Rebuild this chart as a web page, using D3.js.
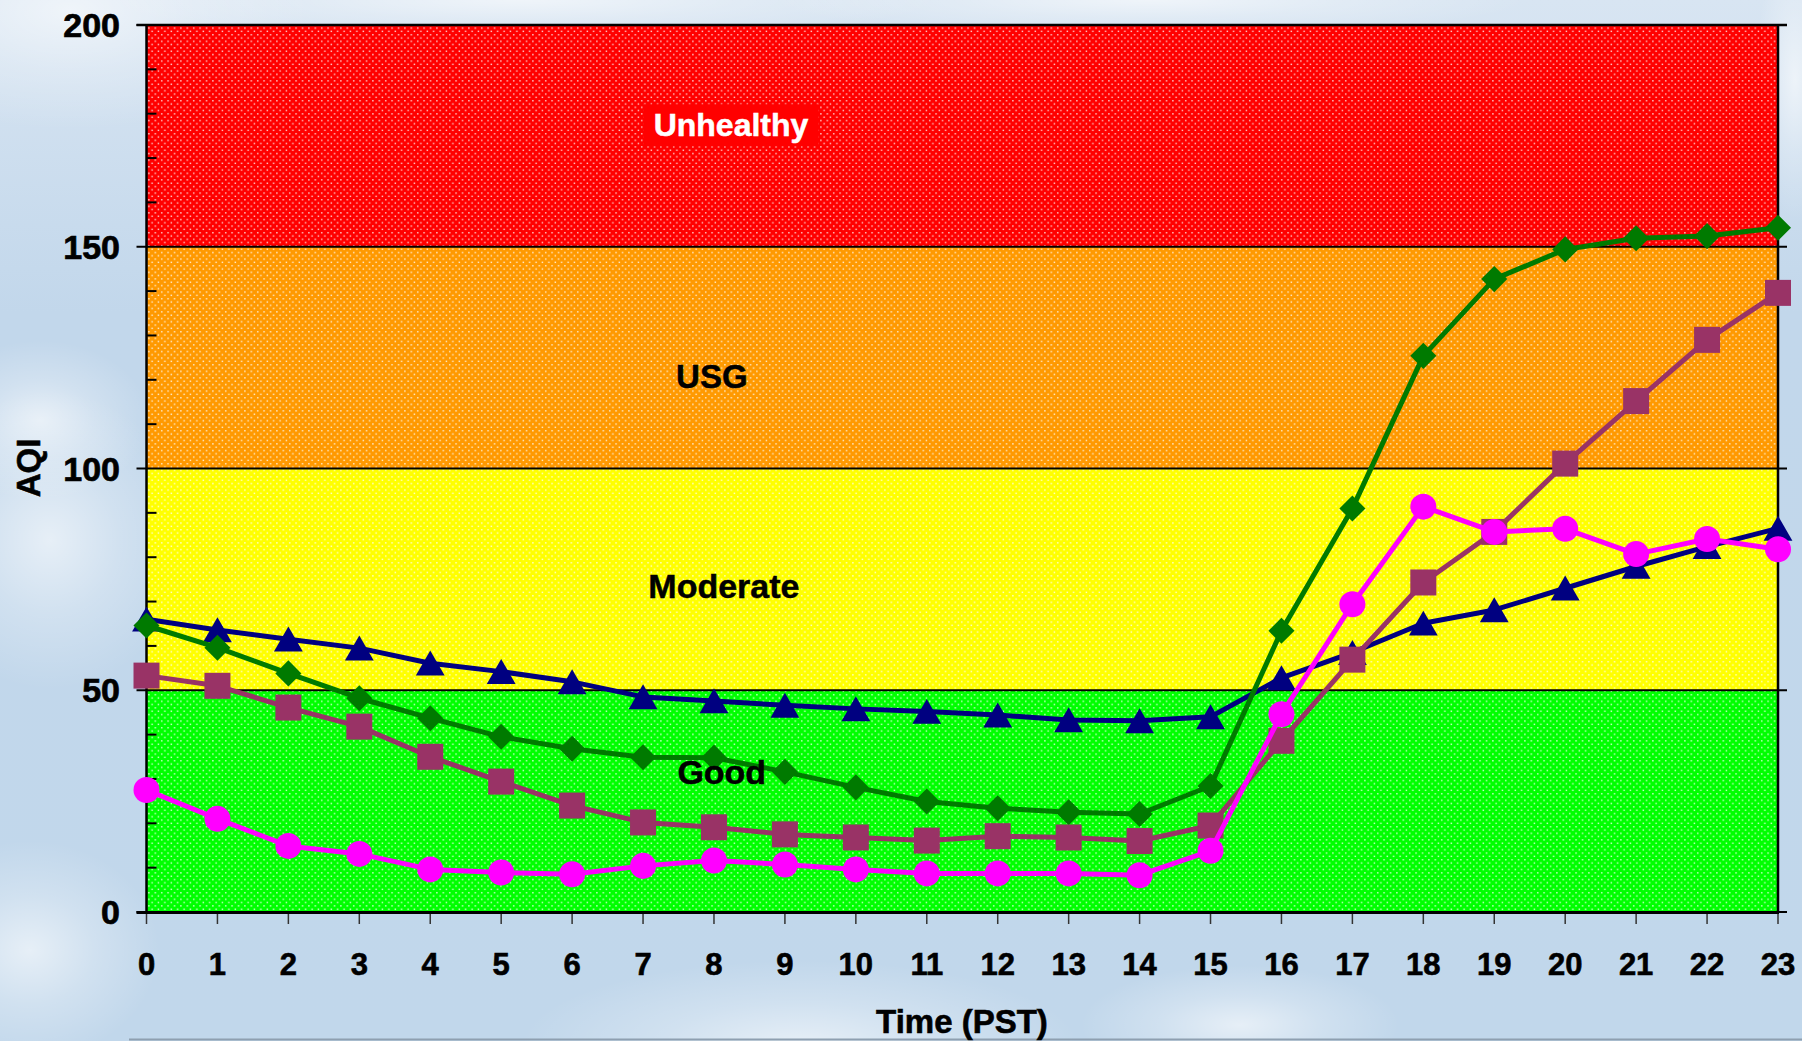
<!DOCTYPE html>
<html>
<head>
<meta charset="utf-8">
<script src="https://cdn.jsdelivr.net/npm/d3@7"></script>
<style>
  html, body { margin: 0; padding: 0; overflow: hidden; background: #c3d8ec; }
  svg { display: block; }
  text { font-family: "Liberation Sans", Arial, sans-serif; font-weight: bold; }
</style>
</head>
<body>
<svg id="chart" width="1802" height="1041"></svg>
<script>
// ---- data -------------------------------------------------------------
const hours = [0, 1, 2, 3, 4, 5, 6, 7, 8, 9, 10, 11, 12, 13, 14, 15, 16, 17, 18, 19, 20, 21, 22, 23];

const navySeries    = [66.0, 63.6, 61.5, 59.5, 56.1, 54.2, 51.9, 48.5, 47.6, 46.6, 45.8, 45.2, 44.4, 43.3, 43.1, 44.0, 52.8, 58.5, 65.1, 68.1, 73.0, 77.9, 82.4, 86.5];
const greenSeries   = [64.6, 59.6, 53.8, 48.2, 43.7, 39.5, 36.8, 34.9, 34.8, 31.6, 28.1, 24.9, 23.4, 22.5, 22.1, 28.4, 63.4, 91.0, 125.4, 142.7, 149.4, 151.9, 152.4, 154.3];
const maroonSeries  = [53.3, 51.0, 46.1, 41.8, 35.0, 29.4, 24.0, 20.2, 19.1, 17.5, 16.8, 16.1, 17.1, 16.8, 16.0, 19.5, 38.6, 56.9, 74.3, 85.7, 101.1, 115.2, 129.0, 139.6];
const magentaSeries = [27.5, 21.0, 14.9, 13.1, 9.6, 8.9, 8.5, 10.4, 11.6, 10.7, 9.6, 8.7, 8.7, 8.7, 8.3, 13.8, 44.6, 69.4, 91.4, 85.7, 86.4, 80.7, 84.1, 81.8];

// AQI category bands (lower, upper)
const bandLows   = [0, 50, 100, 150];
const bandHighs  = [50, 100, 150, 200];
const bandNames  = ["Good", "Moderate", "USG", "Unhealthy"];
const bandColors = ["#00ff00", "#ffff00", "#ff9900", "#ff0000"];

const yTickValues = [0, 50, 100, 150, 200];
const yMinorTicks = [10, 20, 30, 40, 60, 70, 80, 90, 110, 120, 130, 140, 160, 170, 180, 190];

// ---- layout -----------------------------------------------------------
const W = 1802, H = 1041;
const plot = { left: 146.5, right: 1778, top: 25, bottom: 912 };
// where each band's name sits, in data units (hour, AQI), and its size
const bandLabelAt = [
  { hour: 8.11, aqi: 31.6, size: 34 },
  { hour: 8.14, aqi: 73.5, size: 34 },
  { hour: 7.97, aqi: 120.9, size: 33 },
  { hour: 8.24, aqi: 177.5, size: 32 }
];

const svg = d3.select("#chart");
const defs = svg.append("defs");

const x = d3.scaleLinear().domain([0, 23]).range([plot.left, plot.right]);
const y = d3.scaleLinear().domain([0, 200]).range([plot.bottom, plot.top]);

// ---- sky background ---------------------------------------------------
const skyGrad = defs.append("linearGradient").attr("id", "sky")
  .attr("x1", 0).attr("y1", 0).attr("x2", 0).attr("y2", 1);
skyGrad.append("stop").attr("offset", "0%").attr("stop-color", "#d8e5f2");
skyGrad.append("stop").attr("offset", "30%").attr("stop-color", "#c2d7eb");
skyGrad.append("stop").attr("offset", "100%").attr("stop-color", "#c1d7eb");
svg.append("rect").attr("width", W).attr("height", H).attr("fill", "url(#sky)");

const cloud = defs.append("radialGradient").attr("id", "cloud");
cloud.append("stop").attr("offset", "0%").attr("stop-color", "#ffffff").attr("stop-opacity", 0.6);
cloud.append("stop").attr("offset", "50%").attr("stop-color", "#ffffff").attr("stop-opacity", 0.25);
cloud.append("stop").attr("offset", "100%").attr("stop-color", "#ffffff").attr("stop-opacity", 0);

const clouds = [
  { cx: 70, cy: 10, rx: 240, ry: 120 },
  { cx: 520, cy: 0, rx: 420, ry: 40 },
  { cx: 1150, cy: 0, rx: 380, ry: 35 },
  { cx: 50, cy: 540, rx: 140, ry: 150 },
  { cx: 40, cy: 420, rx: 110, ry: 80 },
  { cx: 30, cy: 950, rx: 130, ry: 110 },
  { cx: 800, cy: 1045, rx: 280, ry: 85 },
  { cx: 1240, cy: 1025, rx: 160, ry: 60 },
  { cx: 1795, cy: 80, rx: 40, ry: 140 }
];
svg.append("g").selectAll("ellipse").data(clouds).join("ellipse")
  .attr("cx", d => d.cx).attr("cy", d => d.cy)
  .attr("rx", d => d.rx).attr("ry", d => d.ry)
  .attr("fill", "url(#cloud)");

// thin rule along the foot of the slide
svg.append("line")
  .attr("x1", 129).attr("x2", W).attr("y1", 1039.5).attr("y2", 1039.5)
  .attr("stroke", "#8e9fb0").attr("stroke-width", 2);

// ---- category bands ---------------------------------------------------
const dots = defs.append("pattern").attr("id", "dots")
  .attr("patternUnits", "userSpaceOnUse")
  .attr("width", 6.4).attr("height", 6.6);
dots.append("rect").attr("x", 1).attr("y", 1).attr("width", 1.4).attr("height", 1.4)
  .attr("fill", "#ffffff").attr("opacity", 0.85);
dots.append("rect").attr("x", 4.2).attr("y", 4.3).attr("width", 1.4).attr("height", 1.4)
  .attr("fill", "#ffffff").attr("opacity", 0.85);

const bands = bandLows.map((lo, i) => ({ lo, hi: bandHighs[i], name: bandNames[i], color: bandColors[i] }));
const bandG = svg.append("g");
bandG.selectAll("rect.band").data(bands).join("rect")
  .attr("class", "band")
  .attr("x", plot.left).attr("width", plot.right - plot.left)
  .attr("y", d => y(d.hi)).attr("height", d => y(d.lo) - y(d.hi))
  .attr("fill", d => d.color);
bandG.append("rect")
  .attr("x", plot.left).attr("width", plot.right - plot.left)
  .attr("y", plot.top).attr("height", plot.bottom - plot.top)
  .attr("fill", "url(#dots)");

// band boundaries, with short ticks past the right edge
svg.append("g").selectAll("line").data(yTickValues.filter(v => v > 0 && v < 200)).join("line")
  .attr("x1", plot.left).attr("x2", plot.right + 9)
  .attr("y1", d => y(d)).attr("y2", d => y(d))
  .attr("stroke", "#000").attr("stroke-width", 2);

// ---- frame and axes ---------------------------------------------------
const frame = svg.append("g").attr("stroke", "#000");
frame.append("line").attr("x1", plot.left - 10).attr("x2", plot.right + 9)
  .attr("y1", y(200)).attr("y2", y(200)).attr("stroke-width", 2.5);
frame.append("line").attr("x1", plot.right).attr("x2", plot.right)
  .attr("y1", y(200)).attr("y2", y(0)).attr("stroke-width", 2.5);
frame.append("line").attr("x1", plot.right).attr("x2", plot.right + 9)
  .attr("y1", y(0)).attr("y2", y(0)).attr("stroke-width", 2);
// left axis
frame.append("line").attr("x1", plot.left).attr("x2", plot.left)
  .attr("y1", y(200) - 1).attr("y2", y(0) + 2).attr("stroke-width", 2.5);
frame.selectAll("line.ymaj").data(yTickValues).join("line").attr("class", "ymaj")
  .attr("x1", plot.left - 10).attr("x2", plot.left)
  .attr("y1", d => y(d)).attr("y2", d => y(d)).attr("stroke-width", 2);
frame.selectAll("line.ymin").data(yMinorTicks).join("line").attr("class", "ymin")
  .attr("x1", plot.left).attr("x2", plot.left + 10)
  .attr("y1", d => y(d)).attr("y2", d => y(d)).attr("stroke-width", 2);
// bottom axis
frame.append("line").attr("x1", plot.left - 10).attr("x2", plot.right + 1)
  .attr("y1", y(0) + 0.5).attr("y2", y(0) + 0.5).attr("stroke-width", 3);
frame.selectAll("line.xt").data(hours).join("line").attr("class", "xt")
  .attr("x1", d => x(d)).attr("x2", d => x(d))
  .attr("y1", y(0) + 2).attr("y2", y(0) + 12)
  .attr("stroke", "#333").attr("stroke-width", 1.5);

// tick labels (a hairline stroke gives the heavier weight)
svg.append("g").selectAll("text").data(yTickValues).join("text")
  .attr("x", 120).attr("y", d => y(d)).attr("dy", "0.36em")
  .attr("text-anchor", "end").attr("font-size", 34).attr("fill", "#000")
  .attr("stroke", "#000").attr("stroke-width", 0.7)
  .text(d => d);
svg.append("g").selectAll("text").data(hours).join("text")
  .attr("x", d => x(d)).attr("y", 975)
  .attr("text-anchor", "middle").attr("font-size", 31).attr("fill", "#000")
  .attr("stroke", "#000").attr("stroke-width", 0.6)
  .text(d => d);

// axis titles
svg.append("text").attr("transform", "translate(40,468) rotate(-90)")
  .attr("text-anchor", "middle").attr("font-size", 33).attr("fill", "#000")
  .attr("stroke", "#000").attr("stroke-width", 0.6)
  .text("AQI");
svg.append("text").attr("x", 962).attr("y", 1033)
  .attr("text-anchor", "middle").attr("font-size", 33).attr("fill", "#000")
  .attr("stroke", "#000").attr("stroke-width", 0.6)
  .text("Time (PST)");

// ---- series -----------------------------------------------------------
const seriesList = [
  { name: "navy",    values: navySeries,    color: "#000080", marker: "triangle" },
  { name: "green",   values: greenSeries,   color: "#007a00", marker: "diamond" },
  { name: "maroon",  values: maroonSeries,  color: "#993366", marker: "square" },
  { name: "magenta", values: magentaSeries, color: "#ff00ff", marker: "circle" }
];

const line = d3.line().x((d, i) => x(hours[i])).y(d => y(d));
const markerShape = {
  triangle: { path: d3.symbol(d3.symbolTriangle, 360)(), dy: 4, rot: 0 },
  diamond:  { path: d3.symbol(d3.symbolSquare, 340)(), dy: 0, rot: 45 },
  square:   { path: d3.symbol(d3.symbolSquare, 676)(), dy: 0, rot: 0 },
  circle:   { path: d3.symbol(d3.symbolCircle, 531)(), dy: 0, rot: 0 }
};

const seriesG = svg.append("g");
seriesList.forEach(s => {
  const g = seriesG.append("g").attr("class", "series-" + s.name);
  g.append("path").datum(s.values)
    .attr("d", line)
    .attr("fill", "none").attr("stroke", s.color)
    .attr("stroke-width", 5).attr("stroke-linejoin", "round");
  const m = markerShape[s.marker];
  g.selectAll("path.mk").data(s.values).join("path").attr("class", "mk")
    .attr("d", m.path)
    .attr("transform", (d, i) => `translate(${x(hours[i])},${y(d) + m.dy}) rotate(${m.rot})`)
    .attr("fill", s.color);
});

// ---- band names, drawn over the series --------------------------------
const labelG = svg.append("g");
bands.forEach((b, i) => {
  const pos = bandLabelAt[i];
  const white = b.name === "Unhealthy";
  const t = labelG.append("text")
    .attr("x", x(pos.hour)).attr("y", y(pos.aqi)).attr("dy", "0.36em")
    .attr("text-anchor", "middle").attr("font-size", pos.size)
    .attr("fill", white ? "#ffffff" : "#000000")
    .attr("stroke", white ? "#ffffff" : "#000000").attr("stroke-width", 0.5)
    .text(b.name);
  if (white) {
    const bb = t.node().getBBox();
    labelG.insert("rect", "text")
      .attr("x", bb.x - 10).attr("y", bb.y - 3)
      .attr("width", bb.width + 20).attr("height", bb.height + 6)
      .attr("fill", "#ff0000");
  }
});
</script>
</body>
</html>
